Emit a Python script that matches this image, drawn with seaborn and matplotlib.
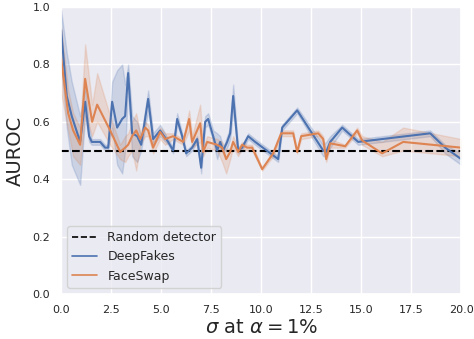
import numpy as np
import pandas as pd
import matplotlib
matplotlib.use("Agg")
import matplotlib.pyplot as plt
import seaborn as sns

# -----------------------------
# Data
# -----------------------------
df_x = [0.0, 0.28, 0.53, 0.95, 1.2, 1.4, 1.53, 1.95, 2.2, 2.35, 2.55, 2.8, 3.05, 3.2,
        3.35, 3.55, 3.8, 4.0, 4.35, 4.6, 4.95, 5.35, 5.6, 5.8, 6.05, 6.25, 6.55, 6.8,
        7.0, 7.2, 7.35, 7.6, 7.8, 7.95, 8.1, 8.3, 8.45, 8.6, 8.85, 9.05, 9.35, 9.7,
        10.85, 11.05, 11.8, 13.1, 13.25, 13.45, 14.05, 14.85, 18.45, 19.2, 20.0]
df_mid = [0.92, 0.69, 0.62, 0.53, 0.67, 0.55, 0.53, 0.53, 0.51, 0.51, 0.67, 0.58, 0.61, 0.62,
          0.77, 0.56, 0.55, 0.52, 0.68, 0.54, 0.57, 0.53, 0.50, 0.61, 0.55, 0.49, 0.51, 0.54,
          0.44, 0.60, 0.61, 0.55, 0.50, 0.53, 0.50, 0.53, 0.56, 0.69, 0.50, 0.51, 0.55, 0.53,
          0.47, 0.58, 0.64, 0.50, 0.495, 0.53, 0.58, 0.53, 0.56, 0.51, 0.47]
df_lo = [0.80, 0.58, 0.45, 0.38, 0.62, 0.53, 0.52, 0.52, 0.50, 0.50, 0.58, 0.45, 0.42, 0.50,
         0.72, 0.48, 0.46, 0.50, 0.64, 0.52, 0.55, 0.52, 0.49, 0.59, 0.54, 0.48, 0.50, 0.53,
         0.42, 0.58, 0.59, 0.53, 0.47, 0.51, 0.49, 0.51, 0.54, 0.64, 0.49, 0.50, 0.54, 0.52,
         0.46, 0.57, 0.63, 0.48, 0.48, 0.51, 0.57, 0.52, 0.55, 0.49, 0.45]
df_hi = [0.99, 0.84, 0.74, 0.62, 0.72, 0.58, 0.54, 0.54, 0.52, 0.52, 0.74, 0.78, 0.80, 0.73,
         0.80, 0.62, 0.60, 0.55, 0.71, 0.56, 0.59, 0.54, 0.51, 0.63, 0.56, 0.50, 0.52, 0.55,
         0.46, 0.62, 0.63, 0.57, 0.56, 0.55, 0.51, 0.55, 0.58, 0.73, 0.51, 0.52, 0.56, 0.54,
         0.48, 0.59, 0.65, 0.52, 0.53, 0.55, 0.59, 0.54, 0.57, 0.52, 0.49]

fs_x = [0.0, 0.35, 0.6, 0.95, 1.2, 1.55, 1.8, 2.45, 2.95, 3.2, 3.35, 3.55, 3.75, 3.95,
        4.2, 4.35, 4.6, 4.95, 5.2, 5.6, 6.1, 6.4, 6.55, 6.95, 7.1, 7.3, 7.8, 8.05, 8.25,
        8.45, 8.6, 8.85, 9.05, 9.3, 9.55, 10.05, 10.6, 11.0, 11.6, 11.8, 12.0, 12.85,
        13.1, 13.25, 13.45, 14.2, 14.8, 15.05, 16.05, 17.1, 20.0]
fs_mid = [0.82, 0.63, 0.57, 0.52, 0.75, 0.60, 0.66, 0.57, 0.495, 0.51, 0.52, 0.55, 0.57, 0.54,
          0.58, 0.57, 0.51, 0.565, 0.54, 0.55, 0.53, 0.61, 0.53, 0.595, 0.495, 0.53, 0.52, 0.51, 0.47,
          0.495, 0.53, 0.495, 0.52, 0.51, 0.51, 0.435, 0.49, 0.56, 0.56, 0.495, 0.55, 0.56,
          0.54, 0.47, 0.525, 0.515, 0.57, 0.535, 0.49, 0.53, 0.51]
fs_lo = [0.70, 0.57, 0.48, 0.45, 0.63, 0.55, 0.60, 0.52, 0.47, 0.46, 0.48, 0.50, 0.43, 0.52,
         0.55, 0.55, 0.49, 0.54, 0.52, 0.54, 0.52, 0.57, 0.51, 0.53, 0.48, 0.51, 0.50, 0.46, 0.42,
         0.47, 0.51, 0.48, 0.51, 0.50, 0.50, 0.43, 0.48, 0.55, 0.55, 0.49, 0.54, 0.55,
         0.53, 0.46, 0.51, 0.51, 0.56, 0.52, 0.48, 0.50, 0.48]
fs_hi = [0.93, 0.71, 0.63, 0.58, 0.87, 0.66, 0.77, 0.62, 0.52, 0.55, 0.56, 0.60, 0.63, 0.56,
         0.60, 0.59, 0.53, 0.58, 0.56, 0.56, 0.54, 0.64, 0.55, 0.66, 0.51, 0.55, 0.54, 0.53, 0.50,
         0.51, 0.55, 0.51, 0.53, 0.52, 0.52, 0.44, 0.50, 0.57, 0.57, 0.50, 0.56, 0.57,
         0.55, 0.49, 0.54, 0.52, 0.58, 0.55, 0.53, 0.58, 0.54]


def long_form(x, lo, mid, hi):
    # three rows per sigma: median gives the line, min/max give the band
    return pd.DataFrame({
        "sigma": np.repeat(x, 3),
        "auroc": np.column_stack([lo, mid, hi]).ravel(),
    })


deepfakes = long_form(df_x, df_lo, df_mid, df_hi)
faceswap = long_form(fs_x, fs_lo, fs_mid, fs_hi)

# -----------------------------
# Plot
# -----------------------------
sns.set_theme(style="darkgrid")
pal = sns.color_palette("deep")

fig, ax = plt.subplots(figsize=(4.74, 3.39), dpi=100)
fig.subplots_adjust(left=0.129, right=0.973, top=0.979, bottom=0.133)

ax.axhline(0.5, color="black", linestyle="--", linewidth=1.5, label="Random detector")
sns.lineplot(data=deepfakes, x="sigma", y="auroc", estimator="median",
             errorbar=("pi", 100), color=pal[0], linewidth=1.5,
             label="DeepFakes", ax=ax)
sns.lineplot(data=faceswap, x="sigma", y="auroc", estimator="median",
             errorbar=("pi", 100), color=pal[1], linewidth=1.5,
             label="FaceSwap", ax=ax)

ax.set_xlim(0, 20)
ax.set_ylim(0, 1)
ax.set_xticks(np.arange(0, 20.1, 2.5))
ax.set_yticks(np.arange(0, 1.01, 0.2))
ax.tick_params(labelsize=8, pad=2)
ax.set_xlabel(r"$\sigma$ at $\alpha = 1\%$", fontsize=14, labelpad=2)
ax.set_ylabel("AUROC", fontsize=14, labelpad=5)

handles, labels = ax.get_legend_handles_labels()
leg = ax.legend(handles, labels, loc="lower left", fontsize=9)
for h in leg.get_lines():
    h.set_linewidth(1.2)

fig.savefig("out.png", dpi=100)
